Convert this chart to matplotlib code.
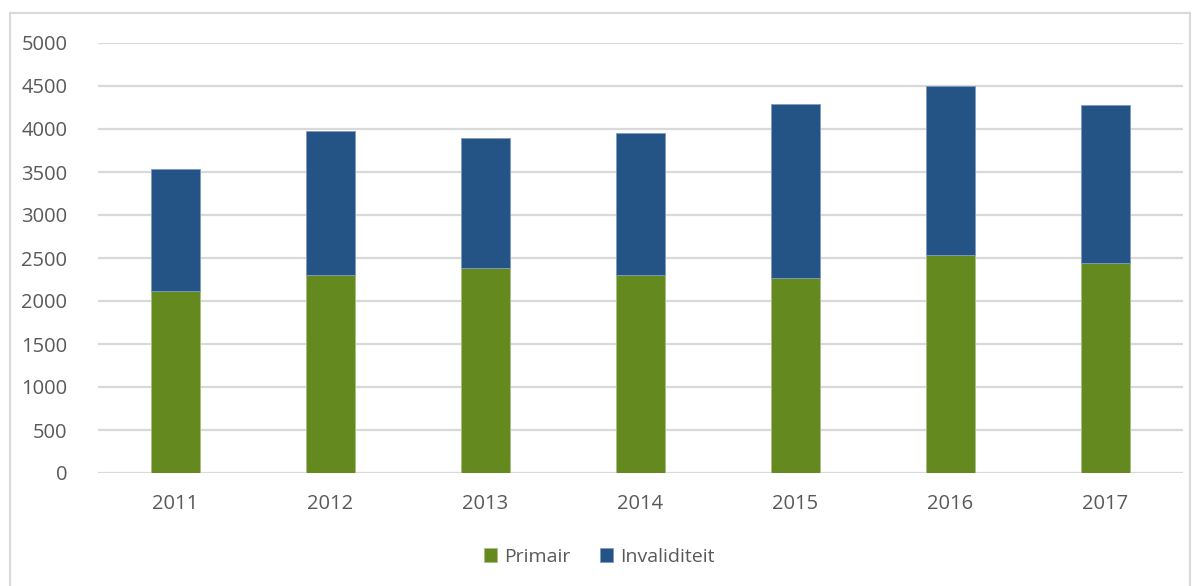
import matplotlib.pyplot as plt
from matplotlib.patches import Rectangle

plt.rcParams['font.family'] = ['Open Sans', 'DejaVu Sans']

years = ['2011', '2012', '2013', '2014', '2015', '2016', '2017']
primair = [2115, 2300, 2385, 2300, 2270, 2535, 2440]
invaliditeit = [1415, 1680, 1510, 1650, 2020, 1965, 1840]

green = '#64891E'
blue = '#245385'
text_col = '#595959'
grid_col = '#d9d9d9'

fig = plt.figure(figsize=(11.98, 5.86), dpi=100)
# chart border
fig.patches.append(Rectangle((10 / 1198, -0.01), 1180 / 1198, 1 - 13 / 586 + 0.01,
                             transform=fig.transFigure, fill=False,
                             edgecolor=grid_col, linewidth=1.5))

ax = fig.add_axes([98 / 1198, 1 - 473 / 586, 1085 / 1198, 430 / 586])
x = range(len(years))
ax.bar(x, primair, width=0.32, color=green, edgecolor='#a9bf85', linewidth=0.6,
       label='Primair', zorder=3)
ax.bar(x, invaliditeit, width=0.32, bottom=primair, color=blue, edgecolor='#7f9cc0',
       linewidth=0.6, label='Invaliditeit', zorder=3)

ax.set_xlim(-0.5, 6.5)
ax.set_ylim(0, 5000)
ax.set_yticks(range(0, 5001, 500))
ax.set_xticks(list(x))
ax.set_xticklabels(years)
ax.yaxis.grid(True, color=grid_col, linewidth=1.6, zorder=0)
for s in ax.spines.values():
    s.set_visible(False)
ax.tick_params(axis='both', length=0, labelsize=14.5, colors=text_col)
ax.tick_params(axis='y', pad=22)
ax.tick_params(axis='x', pad=15)

fig.legend(loc='center', bbox_to_anchor=(0.5, 1 - 557 / 586), ncol=2, frameon=False,
           fontsize=14, labelcolor=text_col, handlelength=0.7, handleheight=0.7,
           handletextpad=0.35, columnspacing=1.5)

fig.savefig('out.png', dpi=100)
